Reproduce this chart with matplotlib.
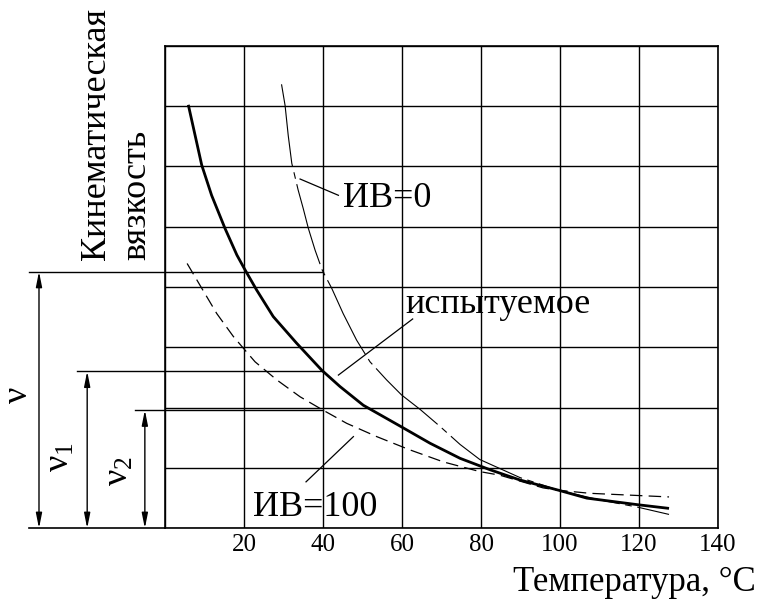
import matplotlib
matplotlib.use("Agg")
import matplotlib.pyplot as plt
import matplotlib.transforms as mtransforms
import numpy as np

plt.rcParams['font.family'] = ['Liberation Serif', 'DejaVu Serif']
plt.rcParams['mathtext.fontset'] = 'custom'
plt.rcParams['mathtext.rm'] = 'Liberation Serif'
plt.rcParams['mathtext.it'] = 'Liberation Serif'

# tested oil (thick solid)
t_test = [5.9, 7.6, 9.3, 11.8, 15.2, 18.2, 20.3, 23.2, 27.4, 33.3, 39.7, 44.3, 50.2, 59.9,
          67.1, 74.7, 82.3, 89.9, 99.7, 106.8, 119.8, 127.6]
v_test = [7.02, 6.52, 6.02, 5.52, 4.97, 4.53, 4.28, 3.95, 3.51, 3.07, 2.62, 2.35, 2.04, 1.68,
          1.41, 1.16, 0.97, 0.80, 0.63, 0.50, 0.39, 0.33]
# VI = 0 (thin dash-dot)
t_vi0 = [29.5, 30.4, 31.2, 32.1, 33.7, 35.0, 36.3, 38.0, 39.8, 42.2, 45.1, 48.5, 51.9, 56.1,
         59.9, 64.6, 69.6, 74.7, 79.7, 89.9, 99.7, 110.1, 119.7, 127.6]
v_vi0 = [7.36, 7.01, 6.51, 6.05, 5.61, 5.30, 4.97, 4.61, 4.28, 3.98, 3.56, 3.12, 2.76, 2.46,
         2.21, 1.97, 1.69, 1.39, 1.14, 0.84, 0.63, 0.47, 0.35, 0.23]
# VI = 100 (dashed)
t_vi100 = [5.6, 9.3, 13.1, 17.3, 20.3, 22.8, 28.3, 34.2, 39.7, 46.0, 53.6, 62.0, 70.5, 79.7,
           84.8, 95.7, 99.7, 107.6, 127.6]
v_vi100 = [4.39, 3.98, 3.56, 3.18, 2.95, 2.76, 2.46, 2.18, 1.97, 1.74, 1.52, 1.30, 1.10, 0.94,
           0.88, 0.67, 0.63, 0.58, 0.52]

x_ticks = [0, 20, 40, 60, 80, 100, 120, 140]
x_labels = ['', '20', '40', '60', '80', '100', '120', '140']
t_ref = 40

fig = plt.figure(figsize=(7.62, 6.02), dpi=100)
ax = fig.add_axes([165 / 762, 1 - 528.3 / 602, (718 - 165) / 762, (528.3 - 45.7) / 602])
ax.set_xlim(0, 140)
ax.set_ylim(0, 8)

ax.plot(t_test, v_test, color='black', lw=2.0, solid_capstyle='butt')
ax.plot(t_vi0, v_vi0, color='black', lw=0.8, linestyle=(0, (75, 5, 6, 5)))
ax.plot(t_vi100, v_vi100, color='black', lw=0.9, linestyle=(0, (10, 5)))

ax.set_xticks(x_ticks)
ax.set_xticklabels(x_labels, fontsize=18)
shift = mtransforms.ScaledTranslation(-8 / 100, 0, fig.dpi_scale_trans)
for lab in ax.get_xticklabels():
    lab.set_transform(lab.get_transform() + shift)
ax.set_yticks(range(0, 9))
ax.set_yticklabels([])
ax.tick_params(length=0, pad=4)
ax.grid(True, color='black', lw=1.0)
for s in ax.spines.values():
    s.set_linewidth(1.2)

# reference levels at 40 C
nu = np.interp(t_ref, t_vi0, v_vi0)
nu1 = np.interp(t_ref, t_test, v_test)
nu2 = np.interp(t_ref, t_vi100, v_vi100)

for level, x0, xa, lab, lx, ly in [(nu, -34.4, -31.9, r'$\mathregular{\nu}$', -37.2, 2.2),
                                   (nu1, -22.3, -19.7, r'$\mathregular{\nu_1}$', -26.5, 1.18),
                                   (nu2, -7.5, -5.1, r'$\mathregular{\nu_2}$', -11.6, 0.95)]:
    ax.plot([x0, t_ref], [level, level], color='black', lw=1.0, clip_on=False)
    ax.annotate('', xy=(xa, level), xytext=(xa, 0),
                arrowprops=dict(arrowstyle='<|-|>,head_length=0.9,head_width=0.18',
                                color='black', lw=1.0, shrinkA=0, shrinkB=0),
                annotation_clip=False)
    ax.text(lx, ly, lab, rotation=90, fontsize=26, ha='center', va='center', clip_on=False)
ax.plot([-34.4, 0], [0, 0], color='black', lw=1.2, clip_on=False)

# leaders and labels
ax.plot([34.2, 43.9], [5.79, 5.52], color='black', lw=0.9)
ax.text(45.1, 5.33, 'ИВ=0', fontsize=26, ha='left', va='baseline')
ax.plot([43.9, 62.7], [2.54, 3.47], color='black', lw=0.9)
ax.text(60.8, 3.57, 'испытуемое', fontsize=26, ha='left', va='baseline')
ax.plot([47.7, 35.7], [1.52, 0.77], color='black', lw=0.9)
ax.text(22.3, 0.20, 'ИВ=100', fontsize=26, ha='left', va='baseline')

fig.text(97 / 762, 1 - 260 / 602, 'Кинематическая', rotation=90, fontsize=26,
         ha='center', va='bottom')
fig.text(137 / 762, 1 - 260 / 602, 'вязкость', rotation=90, fontsize=26,
         ha='center', va='bottom')
fig.text(756 / 762, 1 - 591 / 602, 'Температура, °С', fontsize=25,
         ha='right', va='baseline')

fig.savefig('out.png', dpi=100)
